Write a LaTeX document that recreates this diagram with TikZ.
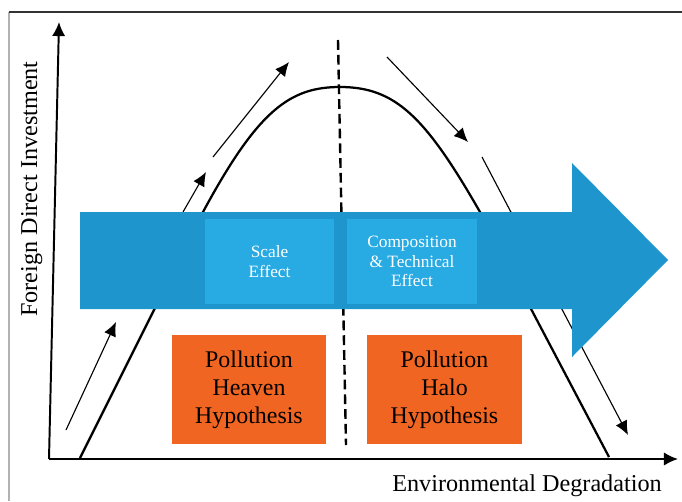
\documentclass[tikz,border=0pt]{standalone}
\usepackage{fontspec}
\setmainfont{Liberation Serif}
\usetikzlibrary{arrows.meta}

\definecolor{barblue}{RGB}{30,150,205}
\definecolor{boxblue}{RGB}{40,170,226}
\definecolor{hyporange}{RGB}{241,101,34}

\begin{document}
\begin{tikzpicture}[x=0.025cm, y=-0.025cm,
    axis/.style={line width=1.4pt, -{Latex[length=10pt,width=9.5pt]}},
    flow/.style={line width=0.8pt, -{Latex[length=10pt,width=9pt]}},
    effect/.style={fill=boxblue, text=white, align=center, inner sep=0pt,
        minimum width=3.225cm, minimum height=2.125cm,
        font=\fontsize{12.3}{13.7}\selectfont},
    hypo/.style={fill=hyporange, align=center, inner sep=0pt,
        minimum width=3.85cm, minimum height=2.725cm,
        font=\fontsize{17}{20}\selectfont}]
    \useasboundingbox (0,0) rectangle (682,501);
    % frame of the figure
    \draw[gray!60, line width=0.9pt] (9,501) -- (9,12);
    \draw[black!80, line width=1pt] (9,12) -- (682,12);

    % axes
    \coordinate (O) at (49,459);
    \coordinate (ytop) at (59,22);
    \coordinate (xend) at (678,459);
    \draw[axis] (O) -- (ytop);
    \draw[axis] (O) -- (xend);
    \node[rotate=90, anchor=base, font=\fontsize{17.2}{19}\selectfont] (ylab) at (37,189) {Foreign Direct Investment};
    \node[anchor=base, font=\fontsize{17.2}{19}\selectfont] (xlab) at (527,491) {Environmental Degradation};

    % inverted U curve and the turning point
    \coordinate (footL) at (80,458);
    \coordinate (riseL) at (203,212);
    \coordinate (peak) at (340,87);
    \coordinate (fallR) at (480,212);
    \coordinate (footR) at (609,457);
    \draw[line width=1.6pt] (footL) -- (riseL)
        .. controls (258,110) and (290,87) .. (peak)
        .. controls (395,87) and (425,116) .. (fallR) -- (footR);
    \coordinate (dtop) at (338,40);
    \coordinate (dbot) at (346,445);
    \draw[line width=1.7pt, dash pattern=on 7pt off 3.5pt] (dtop) -- (dbot);

    % direction arrows along the curve
    \coordinate (a1) at (66,430);   \coordinate (b1) at (116,322);
    \coordinate (a2) at (183,212);  \coordinate (b2) at (206,172);
    \coordinate (a3) at (213,157);  \coordinate (b3) at (289,62);
    \coordinate (a4) at (387,57);   \coordinate (b4) at (468,142);
    \coordinate (a5) at (482,157);  \coordinate (b5) at (628,435);
    \draw[flow] (a1) -- (b1);
    \draw[flow] (a2) -- (b2);
    \draw[flow] (a3) -- (b3);
    \draw[flow] (a4) -- (b4);
    \draw[flow] (a5) -- (b5);

    % big blue arrow
    \fill[barblue] (80,212) -- (572,212) -- (572,163) -- (668,260)
        -- (572,357) -- (572,309) -- (80,309) -- cycle;
    \node[effect] (scale) at (269.5,261.5) {Scale\\Effect};
    \node[effect] (comp) at (412,261.5) {Composition\\\& Technical\\Effect};

    % hypotheses
    \node[hypo] (heaven) at (249,389.5) {Pollution\\Heaven\\Hypothesis};
    \node[hypo] (halo) at (444.5,389.5) {Pollution\\Halo\\Hypothesis};
\end{tikzpicture}
\end{document}
